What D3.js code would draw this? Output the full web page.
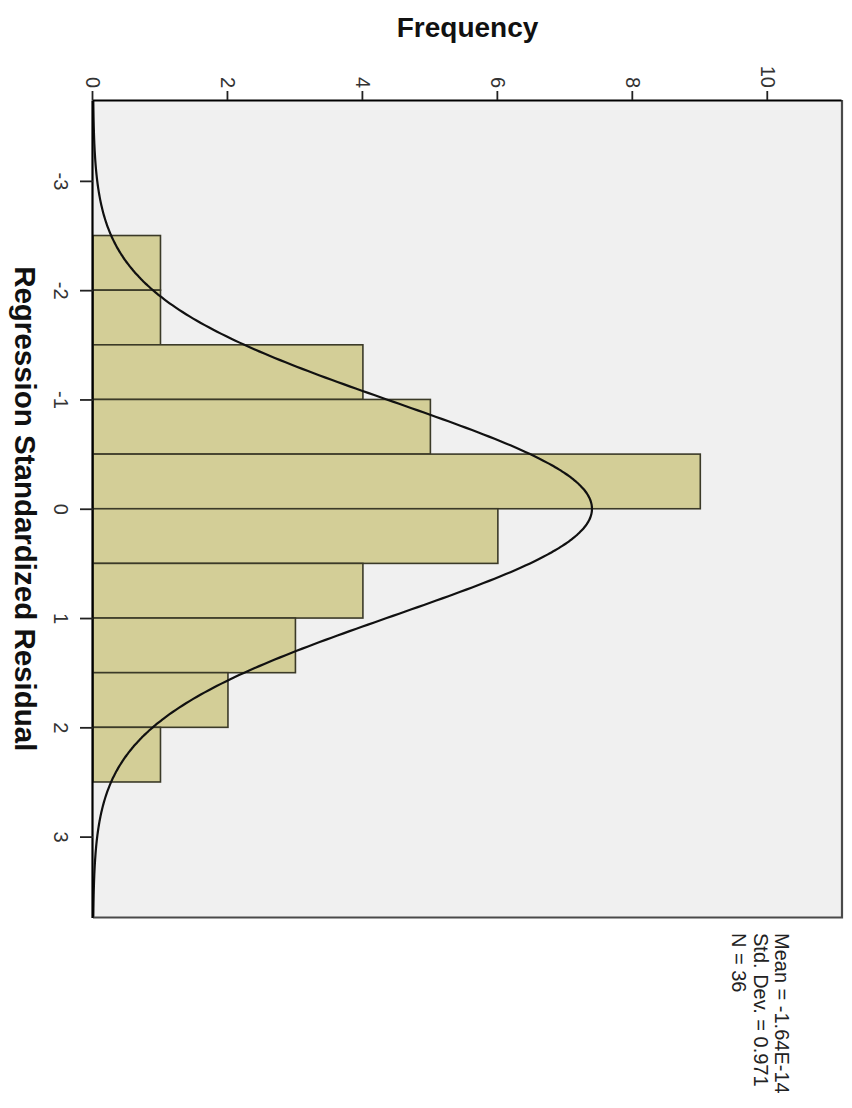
<!DOCTYPE html>
<html>
<head>
<meta charset="utf-8">
<script src="https://cdn.jsdelivr.net/npm/d3@7"></script>
<style>
  html, body { margin: 0; padding: 0; background: #ffffff; }
  svg { display: block; font-family: Arial, "Liberation Sans", sans-serif; }
</style>
</head>
<body>
<svg id="chart" width="852" height="1108"></svg>
<script>
// Histogram of regression standardized residuals (bin width 0.5)
const binStarts = [-2.5, -2.0, -1.5, -1.0, -0.5, 0.0, 0.5, 1.0, 1.5, 2.0];
const binCounts = [1, 1, 4, 5, 9, 6, 4, 3, 2, 1];
const binWidth = 0.5;

const residualTicks = [-3, -2, -1, 0, 1, 2, 3];
const frequencyTicks = [0, 2, 4, 6, 8, 10];

// Summary statistics shown under the plot; the normal curve uses them
const statMean = -1.64e-14;
const statSD = 0.971;
const statN = 36;
const statLines = ["Mean = -1.64E-14", "Std. Dev. = 0.971", "N = 36"];

const W = 852, H = 1108;
const svg = d3.select("#chart");

// The chart is laid out in a local frame (u across, v down) and then turned
// a quarter turn clockwise onto the page.
const g = svg.append("g").attr("transform", `translate(${W},0) rotate(90)`);

const plot = { left: 100, right: 917.5, top: 10, bottom: 759 };

const x = d3.scaleLinear().domain([-3.74, 3.74]).range([plot.left, plot.right]);
const y = d3.scaleLinear().domain([0, 11.1]).range([plot.bottom, plot.top]);

// plot background
g.append("rect")
  .attr("x", plot.left).attr("y", plot.top)
  .attr("width", plot.right - plot.left).attr("height", plot.bottom - plot.top)
  .attr("fill", "#f0f0f0");

// bars
g.append("g").selectAll("rect")
  .data(binStarts.map((s, i) => ({ s, c: binCounts[i] })))
  .join("rect")
  .attr("x", d => x(d.s))
  .attr("width", d => x(d.s + binWidth) - x(d.s))
  .attr("y", d => y(d.c))
  .attr("height", d => y(0) - y(d.c))
  .attr("fill", "#d3ce97")
  .attr("stroke", "#3b3a28")
  .attr("stroke-width", 1.6);

// fitted normal curve scaled to counts
const pdf = v => statN * binWidth / (statSD * Math.sqrt(2 * Math.PI)) *
  Math.exp(-0.5 * Math.pow((v - statMean) / statSD, 2));
const curveX = d3.range(-3.74, 3.7401, 0.02);
g.append("clipPath").attr("id", "plotClip").append("rect")
  .attr("x", plot.left).attr("y", plot.top)
  .attr("width", plot.right - plot.left).attr("height", plot.bottom - plot.top);
g.append("path")
  .datum(curveX)
  .attr("clip-path", "url(#plotClip)")
  .attr("fill", "none")
  .attr("stroke", "#111")
  .attr("stroke-width", 2.2)
  .attr("d", d3.line().x(d => x(d)).y(d => y(pdf(d))).curve(d3.curveBasis));

// far frame edges
g.append("path")
  .attr("d", `M${plot.left},${plot.top}H${plot.right}V${plot.bottom}`)
  .attr("fill", "none")
  .attr("stroke", "#4a4a4a")
  .attr("stroke-width", 2.2);

// residual axis
const xAxis = g.append("g")
  .attr("transform", `translate(0,${plot.bottom})`)
  .call(d3.axisBottom(x).tickValues(residualTicks).tickSize(13).tickSizeOuter(0).tickPadding(12)
    .tickFormat(d => String(d)));

// frequency axis
const yAxis = g.append("g")
  .attr("transform", `translate(${plot.left},0)`)
  .call(d3.axisLeft(y).tickValues(frequencyTicks).tickSize(9).tickSizeOuter(0).tickPadding(3)
    .tickFormat(d => String(d)));

[xAxis, yAxis].forEach(a => {
  a.select(".domain").attr("stroke", "#000").attr("stroke-width", 2.2);
  a.selectAll(".tick line").attr("stroke", "#222").attr("stroke-width", 1.8);
  a.selectAll(".tick text")
    .attr("font-family", "Arial, 'Liberation Sans', sans-serif")
    .attr("font-size", 20).attr("fill", "#333");
});

// axis titles
g.append("text")
  .attr("transform", `translate(36.5,${(plot.top + plot.bottom) / 2}) rotate(-90)`)
  .attr("text-anchor", "middle")
  .attr("font-size", 28).attr("font-weight", "bold").attr("fill", "#111")
  .text("Frequency");

g.append("text")
  .attr("x", (plot.left + plot.right) / 2)
  .attr("y", 837)
  .attr("text-anchor", "middle")
  .attr("font-size", 29.5).attr("font-weight", "bold").attr("fill", "#111")
  .text("Regression Standardized Residual");

// summary statistics
g.append("g").selectAll("text")
  .data(statLines)
  .join("text")
  .attr("x", 933)
  .attr("y", (d, i) => 77 + i * 21.5)
  .attr("font-size", 20).attr("fill", "#222")
  .text(d => d);
</script>
</body>
</html>
